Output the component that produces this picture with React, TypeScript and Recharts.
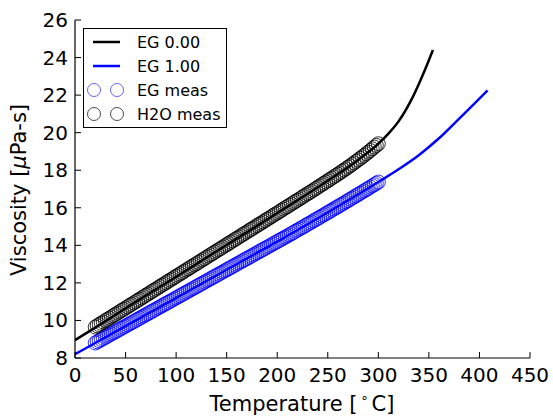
import { ComposedChart, Line, Scatter, XAxis, YAxis } from "recharts";

const FONT = "DejaVu Sans, sans-serif";

const tempTicks = [0, 50, 100, 150, 200, 250, 300, 350, 400, 450];
const viscTicks = [8, 10, 12, 14, 16, 18, 20, 22, 24, 26];

// model curves
const eg0Temp = [0, 20, 50, 100, 150, 200, 250, 280, 300, 310, 320, 335, 345, 354];
const eg0Visc = [8.95, 9.62, 10.64, 12.33, 14.02, 15.72, 17.44, 18.55, 19.41, 19.95, 20.6, 22.0, 23.2, 24.4];

const eg1Temp = [0, 20, 50, 100, 150, 200, 250, 300, 320, 340, 360, 380, 395, 408];
const eg1Visc = [8.2, 8.8, 9.7, 11.2, 12.7, 14.2, 15.75, 17.37, 18.05, 18.8, 19.7, 20.75, 21.55, 22.25];

// measurements
const measTemp = [
  20, 22, 24, 26, 28, 30, 32, 34, 36, 38, 40, 42, 44, 46, 48, 50, 52, 54, 56, 58,
  60, 62, 64, 66, 68, 70, 72, 74, 76, 78, 80, 82, 84, 86, 88, 90, 92, 94, 96, 98,
  100, 102, 104, 106, 108, 110, 112, 114, 116, 118, 120, 122, 124, 126, 128, 130, 132, 134, 136, 138,
  140, 142, 144, 146, 148, 150, 152, 154, 156, 158, 160, 162, 164, 166, 168, 170, 172, 174, 176, 178,
  180, 182, 184, 186, 188, 190, 192, 194, 196, 198, 200, 202, 204, 206, 208, 210, 212, 214, 216, 218,
  220, 222, 224, 226, 228, 230, 232, 234, 236, 238, 240, 242, 244, 246, 248, 250, 252, 254, 256, 258,
  260, 262, 264, 266, 268, 270, 272, 274, 276, 278, 280, 282, 284, 286, 288, 290, 292, 294, 296, 298,
  300,
];
const h2oMeas = [
  9.65, 9.72, 9.78, 9.85, 9.92, 9.99, 10.05, 10.12, 10.19, 10.26, 10.32, 10.39, 10.46, 10.53, 10.59, 10.66, 10.73, 10.8, 10.86, 10.93,
  11.0, 11.07, 11.13, 11.2, 11.27, 11.34, 11.4, 11.47, 11.54, 11.61, 11.67, 11.74, 11.81, 11.88, 11.94, 12.01, 12.08, 12.15, 12.21, 12.28,
  12.35, 12.42, 12.48, 12.55, 12.62, 12.69, 12.75, 12.82, 12.89, 12.96, 13.02, 13.09, 13.16, 13.23, 13.29, 13.36, 13.43, 13.5, 13.56, 13.63,
  13.7, 13.77, 13.83, 13.9, 13.97, 14.04, 14.1, 14.17, 14.24, 14.31, 14.37, 14.44, 14.51, 14.58, 14.64, 14.71, 14.78, 14.85, 14.91, 14.98,
  15.05, 15.12, 15.18, 15.25, 15.32, 15.39, 15.45, 15.52, 15.59, 15.66, 15.72, 15.79, 15.86, 15.93, 16.0, 16.06, 16.13, 16.2, 16.27, 16.34,
  16.4, 16.47, 16.54, 16.61, 16.68, 16.75, 16.81, 16.88, 16.95, 17.02, 17.09, 17.16, 17.23, 17.3, 17.37, 17.44, 17.51, 17.58, 17.65, 17.72,
  17.79, 17.86, 17.94, 18.01, 18.08, 18.16, 18.23, 18.31, 18.39, 18.47, 18.55, 18.63, 18.71, 18.79, 18.88, 18.96, 19.05, 19.14, 19.23, 19.32,
  19.41,
];
const egMeas = [
  8.8, 8.86, 8.92, 8.98, 9.04, 9.1, 9.16, 9.22, 9.28, 9.34, 9.4, 9.46, 9.52, 9.58, 9.64, 9.7, 9.76, 9.82, 9.88, 9.94,
  10.0, 10.06, 10.12, 10.18, 10.24, 10.3, 10.36, 10.42, 10.48, 10.54, 10.6, 10.66, 10.72, 10.78, 10.84, 10.9, 10.96, 11.02, 11.08, 11.14,
  11.2, 11.26, 11.32, 11.38, 11.44, 11.5, 11.56, 11.62, 11.68, 11.74, 11.8, 11.86, 11.92, 11.98, 12.04, 12.1, 12.16, 12.22, 12.28, 12.34,
  12.4, 12.46, 12.52, 12.58, 12.64, 12.7, 12.76, 12.82, 12.88, 12.94, 13.0, 13.06, 13.12, 13.18, 13.24, 13.3, 13.36, 13.42, 13.48, 13.54,
  13.6, 13.66, 13.72, 13.78, 13.84, 13.9, 13.96, 14.02, 14.08, 14.14, 14.2, 14.26, 14.32, 14.38, 14.44, 14.5, 14.56, 14.62, 14.68, 14.75,
  14.81, 14.87, 14.93, 14.99, 15.06, 15.12, 15.18, 15.24, 15.31, 15.37, 15.43, 15.49, 15.56, 15.62, 15.68, 15.75, 15.81, 15.87, 15.94, 16.0,
  16.06, 16.13, 16.19, 16.25, 16.32, 16.38, 16.45, 16.51, 16.58, 16.64, 16.71, 16.77, 16.84, 16.9, 16.97, 17.03, 17.1, 17.17, 17.23, 17.3,
  17.37,
];

const toPoints = (xs: number[], ys: number[]) => xs.map((t, i) => ({ t, v: ys[i] }));

const eg0Data = toPoints(eg0Temp, eg0Visc);
const eg1Data = toPoints(eg1Temp, eg1Visc);
const h2oData = toPoints(measTemp, h2oMeas);
const egData = toPoints(measTemp, egMeas);

const TICK = 6;

const BottomTick = (props: any) => {
  const { x, y, payload } = props;
  return (
    <g>
      <line x1={x} y1={y} x2={x} y2={y - TICK} stroke="#000" />
      <text x={x} y={y + 24} textAnchor="middle" fontSize={20} fontFamily={FONT} fill="#000">
        {payload.value}
      </text>
    </g>
  );
};

const TopTick = (props: any) => {
  const { x, y } = props;
  return <line x1={x} y1={y} x2={x} y2={y + TICK} stroke="#000" />;
};

const LeftTick = (props: any) => {
  const { x, y, payload } = props;
  return (
    <g>
      <line x1={x} y1={y} x2={x + TICK} y2={y} stroke="#000" />
      <text x={x - 7} y={y + 7} textAnchor="end" fontSize={20} fontFamily={FONT} fill="#000">
        {payload.value}
      </text>
    </g>
  );
};

const RightTick = (props: any) => {
  const { x, y } = props;
  return <line x1={x} y1={y} x2={x - TICK} y2={y} stroke="#000" />;
};

const ring = (color: string, opacity: number) => (props: any) =>
  <circle cx={props.cx} cy={props.cy} r={7} fill="none" stroke={color} strokeOpacity={opacity} strokeWidth={1} />;

const LegendBox = () => (
  <div
    style={{
      position: "absolute",
      left: 83,
      top: 28,
      width: 144,
      height: 100,
      boxSizing: "border-box",
      border: "1px solid #000",
      background: "#fff",
    }}
  >
    <svg width={142} height={98} fontFamily={FONT} fontSize={16}>
      <line x1={9} y1={13} x2={36} y2={13} stroke="#000" strokeWidth={2.5} />
      <text x={53} y={19} fill="#000">EG 0.00</text>
      <line x1={9} y1={37} x2={36} y2={37} stroke="#0000ff" strokeWidth={2.5} />
      <text x={53} y={43} fill="#000">EG 1.00</text>
      <circle cx={10} cy={61} r={6.5} fill="none" stroke="#0000ff" strokeOpacity={0.6} />
      <circle cx={33} cy={61} r={6.5} fill="none" stroke="#0000ff" strokeOpacity={0.6} />
      <text x={53} y={67} fill="#000">EG meas</text>
      <circle cx={10} cy={85} r={6.5} fill="none" stroke="#000" strokeOpacity={0.7} />
      <circle cx={33} cy={85} r={6.5} fill="none" stroke="#000" strokeOpacity={0.7} />
      <text x={53} y={91} fill="#000">H2O meas</text>
    </svg>
  </div>
);

export default function App() {
  return (
    <div style={{ position: "fixed", left: 0, top: 0, width: 553, height: 418, background: "#fff" }}>
      <ComposedChart width={553} height={418} margin={{ top: 20, right: 23, left: 0, bottom: 0 }}>
        <XAxis
          dataKey="t"
          type="number"
          domain={[0, 450]}
          ticks={tempTicks}
          allowDataOverflow
          height={60}
          tickSize={0}
          tickMargin={0}
          tickLine={false}
          axisLine={{ stroke: "#000", strokeWidth: 1.2 }}
          tick={BottomTick}
          label={{
            content: () => (
              <text x={302} y={411} textAnchor="middle" fontSize={21} fontFamily={FONT} fill="#000">
                Temperature [
                <tspan fontSize={13} dx={3} dy={-9}>∘</tspan>
                <tspan dx={3} dy={9}>C]</tspan>
              </text>
            ),
          }}
        />
        <XAxis
          xAxisId="top"
          orientation="top"
          dataKey="t"
          type="number"
          domain={[0, 450]}
          ticks={tempTicks}
          height={0}
          tickSize={0}
          tickMargin={0}
          tickLine={false}
          axisLine={{ stroke: "#000", strokeWidth: 1.2 }}
          tick={TopTick}
        />
        <YAxis
          dataKey="v"
          type="number"
          domain={[8, 26]}
          ticks={viscTicks}
          allowDataOverflow
          width={75}
          tickSize={0}
          tickMargin={0}
          tickLine={false}
          axisLine={{ stroke: "#000", strokeWidth: 1.2 }}
          tick={LeftTick}
          label={{
            content: () => (
              <text
                x={0}
                y={0}
                transform="translate(26 190) rotate(-90)"
                textAnchor="middle"
                fontSize={21}
                fontFamily={FONT}
                fill="#000"
              >
                Viscosity [<tspan fontStyle="italic">μ</tspan>Pa-s]
              </text>
            ),
          }}
        />
        <YAxis
          yAxisId="right"
          orientation="right"
          type="number"
          domain={[8, 26]}
          ticks={viscTicks}
          width={0}
          tickSize={0}
          tickMargin={0}
          tickLine={false}
          axisLine={{ stroke: "#000", strokeWidth: 1.2 }}
          tick={RightTick}
        />
        <Line data={eg0Data} dataKey="v" type="monotone" stroke="#000" strokeWidth={2.5} dot={false} isAnimationActive={false} />
        <Line data={eg1Data} dataKey="v" type="monotone" stroke="#0000ff" strokeWidth={2.5} dot={false} isAnimationActive={false} />
        <Scatter data={egData} dataKey="v" shape={ring("#0000ff", 0.8)} isAnimationActive={false} />
        <Scatter data={h2oData} dataKey="v" shape={ring("#000", 0.8)} isAnimationActive={false} />
      </ComposedChart>
      <LegendBox />
    </div>
  );
}
